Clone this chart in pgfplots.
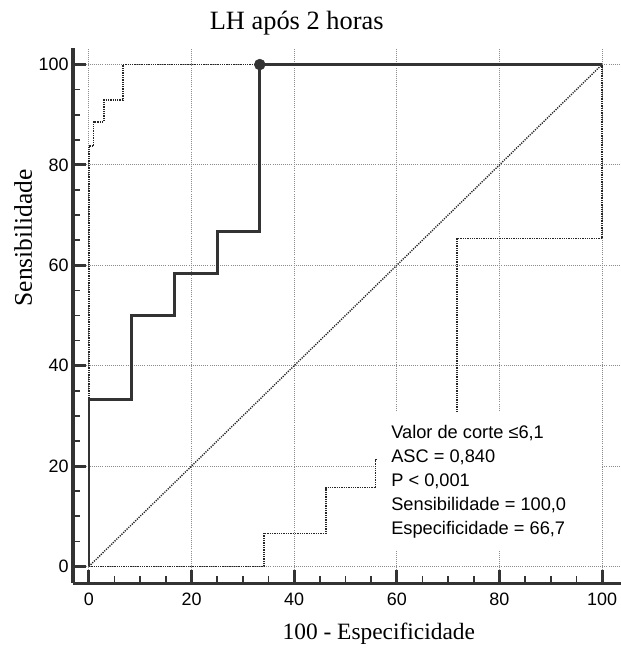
\documentclass[border=0pt]{standalone}
\usepackage{fontspec}
\setmainfont{Liberation Serif}
\newfontfamily\arial{Liberation Sans}
\usepackage{pgfplots}
\pgfplotsset{compat=1.18}
\definecolor{roc}{HTML}{333333}
\definecolor{gridc}{HTML}{8C8C8C}
\begin{document}
\begin{tikzpicture}
\path[use as bounding box] (-73bp,-65bp) rectangle (548bp,583bp);
\begin{axis}[
  at={(0,0)}, anchor=south west,
  scale only axis, width=548bp, height=535bp,
  xmin=-3.1, xmax=103.7, ymin=-3.3, ymax=103.3,
  axis lines*=left,
  axis line style={line width=3bp, color=roc},
  xtick={0,20,...,100}, ytick={0,20,...,100},
  minor x tick num=3, minor y tick num=3,
  tick align=inside,
  major tick length=13bp, minor tick length=7bp,
  major tick style={line width=3bp, color=roc},
  minor tick style={line width=1.6bp, color=roc},
  grid=major,
  major grid style={gridc, line width=0.9bp, dash pattern=on 1bp off 1.1bp},
  ticklabel style={font=\arial\fontsize{18}{18}\selectfont},
  xticklabel style={yshift=-6bp},
  yticklabel style={xshift=-1bp},
  /pgf/number format/assume math mode=true,
  clip=false,
]
% lower confidence bound
\addplot[black!85, line width=1.5bp, dash pattern=on 1.3bp off 1bp] coordinates {
  (0,0) (34.1,0) (34.1,6.6) (46.2,6.6) (46.2,15.7) (55.9,15.7) (55.9,21.3)
  (71.7,21.3) (71.7,65.3) (100,65.3) (100,100)};
% upper confidence bound
\addplot[black!85, line width=1.5bp, dash pattern=on 1.3bp off 1bp] coordinates {
  (0,0) (0,83.8) (0.9,83.8) (0.9,88.6) (2.9,88.6) (2.9,92.9) (6.6,92.9)
  (6.6,100) (100,100)};
% diagonal
\addplot[black!85, line width=1.4bp, dash pattern=on 1.2bp off 1.2bp] coordinates {(0,0) (100,100)};
% ROC curve
\addplot[roc, line width=2.8bp] coordinates {
  (0,0) (0,33.3) (8.3,33.3) (8.3,50) (16.7,50) (16.7,58.3) (25,58.3)
  (25,66.7) (33.3,66.7) (33.3,100) (100,100)};
\addplot[only marks, mark=*, mark size=5.5bp, roc] coordinates {(33.3,100)};
\fill[white] (axis cs:56.3,3.4) rectangle (axis cs:99.8,30.7);
\begin{scope}[every node/.style={anchor=base west, inner sep=0pt, font=\arial\fontsize{18.3}{18}\selectfont}]
\node at (axis cs:58.9,25.5) {Valor de corte ≤6,1};
\node at (axis cs:58.9,20.7) {ASC = 0,840};
\node at (axis cs:58.9,15.9) {P < 0,001};
\node at (axis cs:58.9,11.1) {Sensibilidade = 100,0};
\node at (axis cs:58.9,6.3) {Especificidade = 66,7};
\end{scope}
\node[anchor=base, inner sep=0pt, font=\fontsize{26.5}{26}\selectfont] at (axis cs:40.5,107) {LH após 2 horas};
\node[anchor=base, inner sep=0pt, font=\fontsize{23.5}{24}\selectfont] at (axis cs:56.5,-14.5) {100 - Especificidade};
\node[anchor=base, inner sep=0pt, rotate=90, font=\fontsize{25.5}{25}\selectfont] at (axis cs:-11.1,65.5) {Sensibilidade};
\end{axis}
\end{tikzpicture}
\end{document}
